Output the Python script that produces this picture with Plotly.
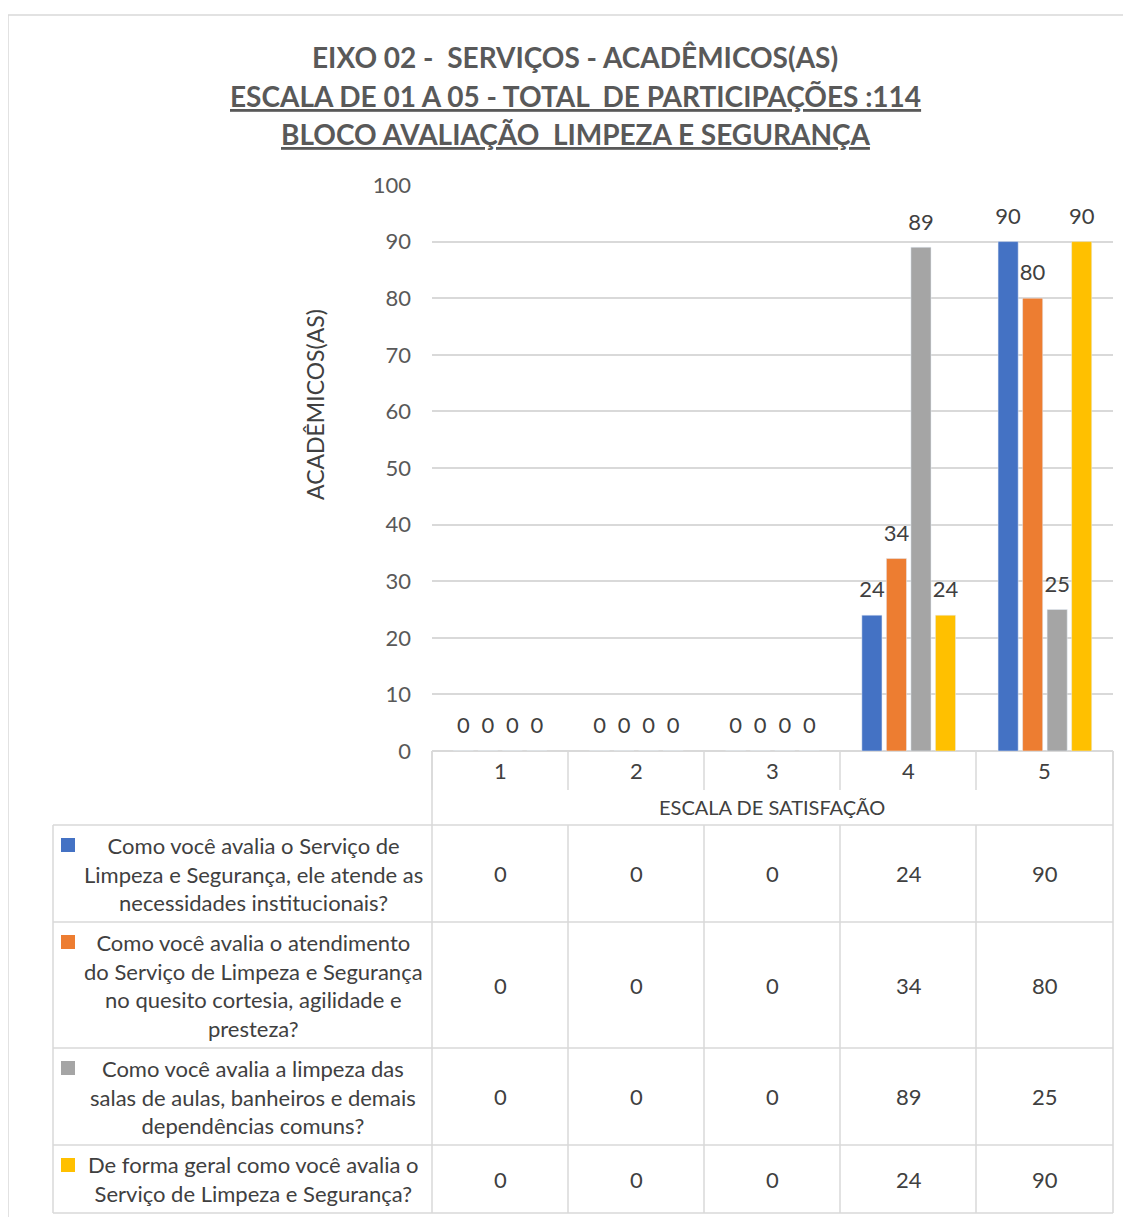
import plotly.graph_objects as go

categories = ["1", "2", "3", "4", "5"]
series_names = [
    "Como você avalia o Serviço de<br>Limpeza e Segurança, ele atende as<br>necessidades institucionais?",
    "Como você avalia o atendimento<br>do Serviço de Limpeza e Segurança<br>no quesito cortesia, agilidade e<br>presteza?",
    "Como você avalia a limpeza das<br>salas de aulas, banheiros e demais<br>dependências comuns?",
    "De forma geral como você avalia o<br>Serviço de Limpeza e Segurança?",
]
serie_1 = [0, 0, 0, 24, 90]
serie_2 = [0, 0, 0, 34, 80]
serie_3 = [0, 0, 0, 89, 25]
serie_4 = [0, 0, 0, 24, 90]
all_series = [serie_1, serie_2, serie_3, serie_4]
colors = ["#4472C4", "#ED7D31", "#A5A5A5", "#FFC000"]

FONT = "Lato"
TXT = "#404040"
GRID = "#d9d9d9"

# page has an 8px body margin; positions below are in screenshot pixels
OFF = 8
W, H = 1131 - OFF, 1217 - OFF
L, R, T, B = 432, 1113, 185, 751


def xp(px):
    return (px - L) / (R - L)


def yp(py):
    return (B - py) / (B - T)


fig = go.Figure()
for name, vals, col in zip(series_names, all_series, colors):
    fig.add_trace(go.Bar(x=categories, y=vals, name=name, marker_color=col))
# data labels: invisible markers push the text a little above the bar tops
for name, vals in zip(series_names, all_series):
    fig.add_trace(go.Scatter(
        x=categories, y=vals, mode="markers+text", text=vals,
        textposition="top center", cliponaxis=False, hoverinfo="skip",
        marker=dict(size=18, opacity=0),
        textfont=dict(size=22, color=TXT, family=FONT),
    ))

shapes = []
annotations = []


def line(x0, y0, x1, y1, color=GRID, width=1.5):
    shapes.append(dict(type="line", xref="paper", yref="paper",
                       x0=xp(x0), y0=yp(y0), x1=xp(x1), y1=yp(y1),
                       line=dict(color=color, width=width)))


def label(x, y, text, size, xref="paper", **kw):
    annotations.append(dict(x=x, xref=xref, y=yp(y), yref="paper", text=text,
                            showarrow=False, xanchor="center", yanchor="middle",
                            font=dict(size=size, color=kw.pop("color", TXT), family=FONT),
                            **kw))


# outer chart border
line(8, 15, 1140, 15)
line(8, 15, 8, 1230)

# table grid
cat_edges = [432, 568, 704, 840, 976, 1113]
row_edges = [825, 922, 1048, 1145, 1213]
for xe in cat_edges:
    line(xe, 751, xe, 790)
line(432, 751, 432, 1213)
line(1113, 751, 1113, 1213)
for xe in cat_edges[1:-1]:
    line(xe, 825, xe, 1213)
for ye in row_edges:
    line(53, ye, 1113, ye)
line(53, 825, 53, 1213)

# category labels and axis title in table header
for i, c in enumerate(categories):
    label(i, 770, c, 22, xref="x")
label(xp(772), 807, "ESCALA DE SATISFAÇÃO", 20)

# table rows
for r, (name, vals, col) in enumerate(zip(series_names, all_series, colors)):
    top, bot = row_edges[r], row_edges[r + 1]
    mid = (top + bot) / 2
    label(xp(253), mid, name, 22, align="center")
    shapes.append(dict(type="rect", xref="paper", yref="paper",
                       x0=xp(61), x1=xp(75), y0=yp(top + 13), y1=yp(top + 27),
                       fillcolor=col, line=dict(width=0)))
    for i, v in enumerate(vals):
        label(i, mid, str(v), 22, xref="x")

# titles
title_lines = [
    "<b>EIXO 02 -  SERVIÇOS - ACADÊMICOS(AS)</b>",
    "<b><u>ESCALA DE 01 A 05 - TOTAL  DE PARTICIPAÇÕES :114</u></b>",
    "<b><u>BLOCO AVALIAÇÃO  LIMPEZA E SEGURANÇA</u></b>",
]
for t, ypix in zip(title_lines, [57, 96, 134]):
    label(xp(575), ypix, t, 28, color="#595959")

# y axis title
label(xp(315), 405, "ACADÊMICOS(AS)", 23, textangle=-90)

fig.update_layout(
    width=W, height=H,
    margin=dict(l=L - OFF, r=W + OFF - R, t=T - OFF, b=H + OFF - B),
    paper_bgcolor="white", plot_bgcolor="white",
    showlegend=False,
    barmode="group", bargap=0.28, bargroupgap=0.18,
    scattermode="group", scattergap=0.28,
    shapes=shapes, annotations=annotations,
    font=dict(family=FONT, color=TXT),
)
fig.update_xaxes(type="category", showticklabels=False, showgrid=False,
                 showline=False, zeroline=False)
fig.update_yaxes(range=[0, 100], dtick=10, showgrid=True, gridcolor=GRID,
                 gridwidth=1.5, zeroline=True, zerolinecolor=GRID, zerolinewidth=1.5,
                 tickfont=dict(size=22, color="#595959", family=FONT),
                 ticklabelstandoff=20, showline=False)

fig.write_html("out.html")
